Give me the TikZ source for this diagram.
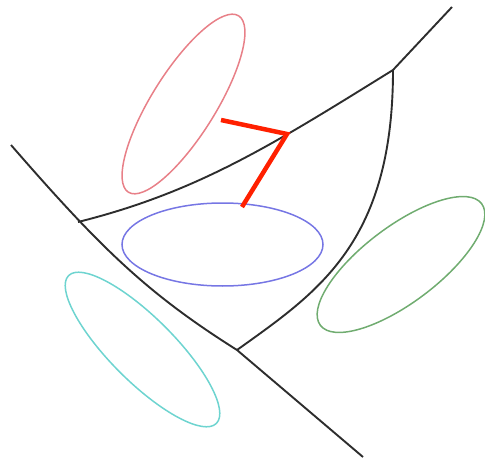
\documentclass[tikz,border=0pt]{standalone}
\usetikzlibrary{shapes.geometric}
\definecolor{ellred}{RGB}{232,128,136}
\definecolor{ellblue}{RGB}{118,118,228}
\definecolor{ellgreen}{RGB}{112,172,112}
\definecolor{ellcyan}{RGB}{110,212,208}
\definecolor{linkred}{RGB}{255,32,0}
\definecolor{curve}{RGB}{45,45,45}
\tikzset{
  ellbox/.style={ellipse, inner sep=0pt, line width=1.5pt},
  bcurve/.style={draw=curve, line width=1.9pt, line join=round},
  link/.style={draw=linkred, line width=4.5pt, line join=miter}
}
\begin{document}
\begin{tikzpicture}[x=1pt,y=-1pt]
\useasboundingbox (0,0) rectangle (485,460);
% ellipses
\node[ellbox, draw=ellred, minimum width=208pt, minimum height=64pt, rotate=58] (R) at (183.5,104) {};
\node[ellbox, draw=ellblue, minimum width=201pt, minimum height=83pt] (B) at (222.5,244.5) {};
\node[ellbox, draw=ellgreen, minimum width=202pt, minimum height=76pt, rotate=37] (G) at (401,264.5) {};
\node[ellbox, draw=ellcyan, minimum width=209pt, minimum height=64pt, rotate=-45] (C) at (142.5,349.5) {};
% junction points
\coordinate (mtop) at (11,145);
\coordinate (j1) at (78,222);
\coordinate (j2) at (237,350);
\coordinate (mend) at (363,457);
\coordinate (j3) at (393,70);
\coordinate (utop) at (452,7);
\coordinate (k) at (287,134);
\coordinate (pr) at (221,120);
\coordinate (pb) at (242,207);
% black curves
\draw[bcurve] (mtop) .. controls (101,248.5) and (147,293.3) .. (j2) -- (mend);
\draw[bcurve] (j1) .. controls (198,192) and (273,144.4) .. (j3) -- (utop);
\draw[bcurve] (j3) .. controls (393,243) and (318,292) .. (j2);
% red links
\draw[link] (pr) -- (k) -- (pb);
\end{tikzpicture}
\end{document}
